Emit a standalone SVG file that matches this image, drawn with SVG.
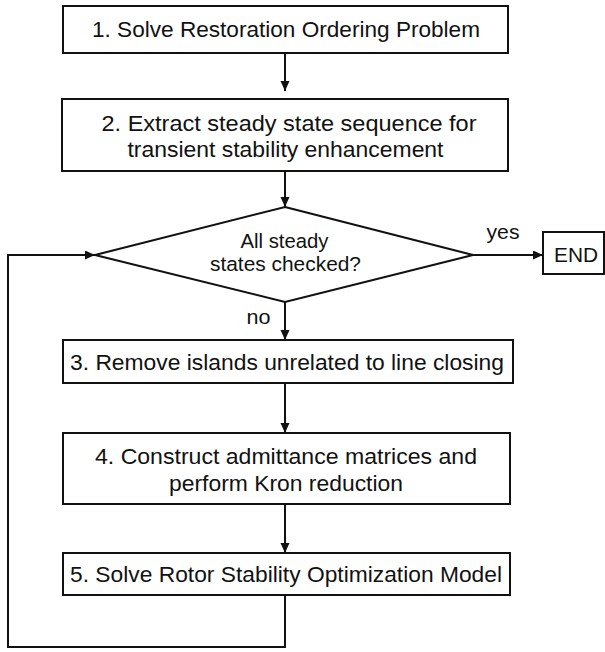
<svg xmlns="http://www.w3.org/2000/svg" width="605" height="652" viewBox="0 0 605 652">
<style>
.box{fill:#fff;stroke:#111;stroke-width:2}
.t{font-family:"Liberation Sans",Arial,Helvetica,sans-serif;font-size:22.5px;fill:#111;text-anchor:middle}
.s{font-family:"Liberation Sans",Arial,Helvetica,sans-serif;font-size:20.5px;fill:#111;text-anchor:middle}
.c{fill:none;stroke:#111;stroke-width:2}
</style>
<defs>
<marker id="ah" markerUnits="userSpaceOnUse" markerWidth="11" markerHeight="10" refX="10" refY="4.5" orient="auto">
<path d="M0,0 L10,4.5 L0,9 z" fill="#111"/>
</marker>
</defs>
<rect width="605" height="652" fill="#fff"/>
<g id="connectors">
<line class="c" x1="285" y1="53" x2="285" y2="91" marker-end="url(#ah)"/>
<line class="c" x1="285" y1="171" x2="285" y2="207" marker-end="url(#ah)"/>
<line class="c" x1="473" y1="255" x2="543" y2="255" marker-end="url(#ah)"/>
<line class="c" x1="285" y1="302" x2="285" y2="340" marker-end="url(#ah)"/>
<line class="c" x1="285" y1="383" x2="285" y2="433" marker-end="url(#ah)"/>
<line class="c" x1="285" y1="504" x2="285" y2="553" marker-end="url(#ah)"/>
<polyline class="c" points="285,595 285,647 8,647 8,255 95,255" marker-end="url(#ah)"/>
<text class="s" x="503" y="238.5" textLength="33" lengthAdjust="spacingAndGlyphs">yes</text>
<text class="s" x="258.5" y="324" textLength="24" lengthAdjust="spacingAndGlyphs">no</text>
</g>
<g id="n1">
<rect class="box" x="63" y="6" width="445" height="47"/>
<text class="t" x="286" y="37" textLength="388" lengthAdjust="spacingAndGlyphs">1. Solve Restoration Ordering Problem</text>
</g>
<g id="n2">
<rect class="box" x="62" y="99" width="446" height="72"/>
<text class="t" x="289" y="131" textLength="375" lengthAdjust="spacingAndGlyphs">2. Extract steady state sequence for</text>
<text class="t" x="285.5" y="157" textLength="316" lengthAdjust="spacingAndGlyphs">transient stability enhancement</text>
</g>
<g id="decision">
<polygon class="box" points="285,207 473,255 285,302 95,255"/>
<text class="s" x="284.5" y="247.5" textLength="88" lengthAdjust="spacingAndGlyphs">All steady</text>
<text class="s" x="285.5" y="270.7" textLength="151" lengthAdjust="spacingAndGlyphs">states checked?</text>
</g>
<g id="end">
<rect class="box" x="543" y="232" width="61" height="42"/>
<text class="s" x="576" y="261.7" textLength="44" lengthAdjust="spacingAndGlyphs">END</text>
</g>
<g id="n3">
<rect class="box" x="63" y="340" width="450" height="43"/>
<text class="t" x="287" y="370" textLength="434" lengthAdjust="spacingAndGlyphs">3. Remove islands unrelated to line closing</text>
</g>
<g id="n4">
<rect class="box" x="63" y="433" width="447" height="71"/>
<text class="t" x="286" y="464" textLength="382" lengthAdjust="spacingAndGlyphs">4. Construct admittance matrices and</text>
<text class="t" x="286" y="491" textLength="234" lengthAdjust="spacingAndGlyphs">perform Kron reduction</text>
</g>
<g id="n5">
<rect class="box" x="63" y="553" width="447" height="42"/>
<text class="t" x="286" y="581.5" textLength="432" lengthAdjust="spacingAndGlyphs">5. Solve Rotor Stability Optimization Model</text>
</g>
</svg>
